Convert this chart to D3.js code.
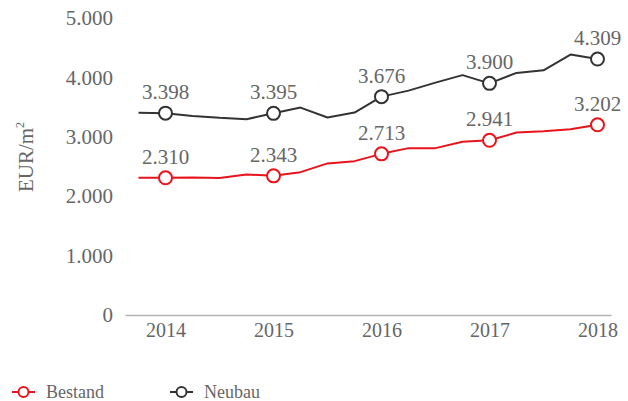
<!DOCTYPE html>
<html>
<head>
<meta charset="utf-8">
<script src="https://cdn.jsdelivr.net/npm/d3@7"></script>
<style>
body { margin: 0; background: #fff; }
svg { display: block; font-family: "Liberation Serif", "Times New Roman", serif; }
</style>
</head>
<body>
<svg id="chart" width="628" height="401"></svg>
<script>
const years = ["2014", "2015", "2016", "2017", "2018"];
const yearIndex = [1, 5, 9, 13, 17];
const yTicks = [0, 1000, 2000, 3000, 4000, 5000];
const bestand = [2312, 2310, 2315, 2305, 2366, 2343, 2405, 2552, 2590, 2713, 2809, 2809, 2918, 2941, 3071, 3093, 3126, 3202];
const neubau  = [3405, 3398, 3352, 3319, 3297, 3395, 3492, 3324, 3408, 3676, 3777, 3912, 4038, 3900, 4076, 4120, 4385, 4309];
const seriesNames = ["Bestand", "Neubau"];
const seriesColors = ["#e8141c", "#333333"];

const svg = d3.select("#chart");
const x = d3.scaleLinear().domain([-0.5, 17.5]).range([125, 611]);
const y = d3.scaleLinear().domain([0, 5000]).range([315, 18]);
const fmt = v => d3.format(",")(v).replace(/,/g, ".");
const textColor = "#666666";

// y axis labels
const yAxis = d3.axisLeft(y).tickValues(yTicks).tickFormat(fmt).tickSize(0).tickPadding(0);
const yg = svg.append("g").attr("transform", "translate(113,0)").call(yAxis);
yg.select(".domain").remove();
yg.selectAll("text").attr("font-size", 21).attr("fill", textColor)
  .attr("font-family", "Liberation Serif, serif");

// x axis
const xAxis = d3.axisBottom(x).tickValues(yearIndex).tickFormat((d, i) => years[i]).tickSize(0).tickPadding(8);
const xg = svg.append("g").attr("transform", `translate(0,${y(0)})`).call(xAxis);
xg.select(".domain").attr("stroke", "#b3b3b3").attr("stroke-width", 1.5);
xg.selectAll("text").attr("font-size", 20).attr("fill", textColor)
  .attr("font-family", "Liberation Serif, serif");

// y title
const yt = svg.append("text")
  .attr("transform", "translate(33,157) rotate(-90)")
  .attr("text-anchor", "middle")
  .attr("font-size", 21).attr("fill", textColor);
yt.append("tspan").text("EUR/m");
yt.append("tspan").attr("font-size", 12).attr("dy", -9).text("2");

const line = d3.line().x((d, i) => x(i)).y(d => y(d));
[bestand, neubau].forEach((data, s) => {
  const col = seriesColors[s];
  svg.append("path").datum(data).attr("d", line)
    .attr("fill", "none").attr("stroke", col).attr("stroke-width", 2)
    .attr("stroke-linejoin", "round");
  const marks = yearIndex.map(i => ({i, v: data[i]}));
  svg.selectAll(null).data(marks).enter().append("circle")
    .attr("cx", d => x(d.i)).attr("cy", d => y(d.v)).attr("r", 6.5)
    .attr("fill", "#fff").attr("stroke", col).attr("stroke-width", 2);
  svg.selectAll(null).data(marks).enter().append("text")
    .attr("x", d => x(d.i)).attr("y", d => y(d.v) - 14)
    .attr("text-anchor", "middle").attr("font-size", 21).attr("fill", textColor)
    .text(d => fmt(d.v));
});

// legend
const legX = [12, 170];
seriesNames.forEach((name, s) => {
  const g = svg.append("g").attr("transform", `translate(${legX[s]},392)`);
  g.append("line").attr("x1", 0).attr("x2", 23).attr("y1", 0).attr("y2", 0)
    .attr("stroke", seriesColors[s]).attr("stroke-width", 2);
  g.append("circle").attr("cx", 11.5).attr("cy", 0).attr("r", 5)
    .attr("fill", "#fff").attr("stroke", seriesColors[s]).attr("stroke-width", 2);
  g.append("text").attr("x", 34).attr("y", 6).attr("font-size", 18)
    .attr("fill", textColor).text(name);
});
</script>
</body>
</html>
